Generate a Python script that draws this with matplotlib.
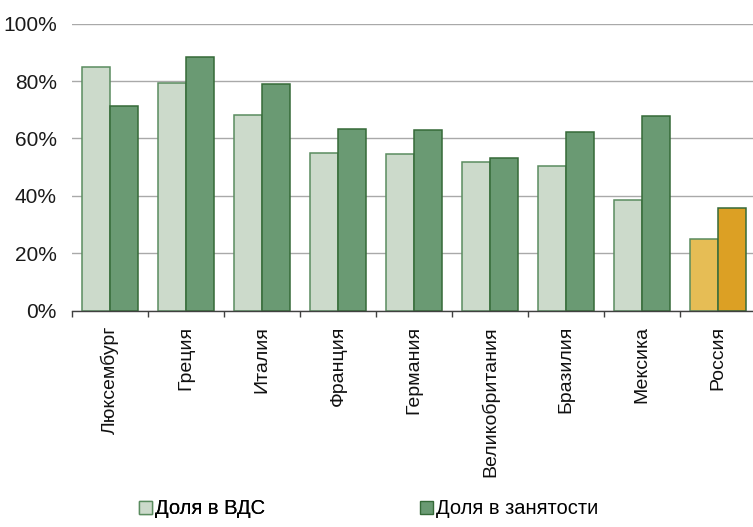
import matplotlib
matplotlib.use("Agg")
import matplotlib.pyplot as plt
import numpy as np
from matplotlib.patches import Patch

categories = ["Люксембург", "Греция", "Италия", "Франция", "Германия",
              "Великобритания", "Бразилия", "Мексика", "Россия"]
share_gva = [84.8, 79.4, 68.1, 55.1, 54.6, 51.9, 50.3, 38.5, 24.9]
share_employment = [71.4, 88.4, 79.1, 63.4, 63.1, 53.1, 62.1, 68.0, 35.7]
yticks = [0, 20, 40, 60, 80, 100]
ytick_labels = ["0%", "20%", "40%", "60%", "80%", "100%"]
legend_labels = ["Доля в ВДС", "Доля в занятости"]

plt.rcParams['font.family'] = ['Liberation Sans', 'DejaVu Sans']

W, H = 753, 527
fig = plt.figure(figsize=(W / 100, H / 100), dpi=100)
ax = fig.add_axes([72 / W, (H - 310.7) / H, 684 / W, 287 / H])

light_c = ["#ccdacb"] * 8 + ["#e6bd55"]
dark_c = ["#6a9a73"] * 8 + ["#dca024"]
light_e = ["#5a8c5f"] * 9
dark_e = ["#356a38"] * 9

x = np.arange(len(categories))
bw = 0.364
ax.bar(x - bw / 2, share_gva, width=bw, color=light_c, edgecolor=light_e,
       linewidth=1.1, zorder=3)
ax.bar(x + bw / 2, share_employment, width=bw, color=dark_c, edgecolor=dark_e,
       linewidth=1.1, zorder=3)

ax.set_xlim(-0.5, len(categories) - 0.5)
ax.set_ylim(0, 100)
ax.set_yticks(yticks)
ax.set_yticklabels(ytick_labels, fontsize=15, color="#1a1a1a")
ax.tick_params(axis="y", length=0, pad=11)
ax.yaxis.grid(True, color="#a9a9a9", linewidth=1.0, zorder=0)
ax.set_axisbelow(True)

ax.set_xticks(x)
ax.set_xticklabels(categories, rotation=90, fontsize=14, color="#111111",
                   va="top", ha="center")
ax.tick_params(axis="x", which="major", length=0, pad=11)
ax.set_xticks(np.arange(len(categories) + 1) - 0.5, minor=True)
ax.tick_params(axis="x", which="minor", length=4, width=1, color="#404040",
               direction="out")

for s in ["top", "right", "left"]:
    ax.spines[s].set_visible(False)
ax.spines["bottom"].set_color("#404040")
ax.spines["bottom"].set_linewidth(1.0)
ax.spines["bottom"].set_zorder(4)

handles = [Patch(facecolor="#ccdacb", edgecolor="#5a8c5f", linewidth=1.0),
           Patch(facecolor="#6a9a73", edgecolor="#356a38", linewidth=1.0)]
leg1 = fig.legend([handles[0]], [legend_labels[0]], loc="center left",
                  bbox_to_anchor=(139 / W, 1 - 509 / H), frameon=False,
                  fontsize=14.5, handlelength=0.65, handleheight=0.65,
                  handletextpad=0.15, borderpad=0, borderaxespad=0)
leg2 = fig.legend([handles[1]], [legend_labels[1]], loc="center left",
                  bbox_to_anchor=(420 / W, 1 - 509 / H), frameon=False,
                  fontsize=14.5, handlelength=0.65, handleheight=0.65,
                  handletextpad=0.15, borderpad=0, borderaxespad=0)
fig.add_artist(leg1)

fig.savefig("out.png", dpi=100)
